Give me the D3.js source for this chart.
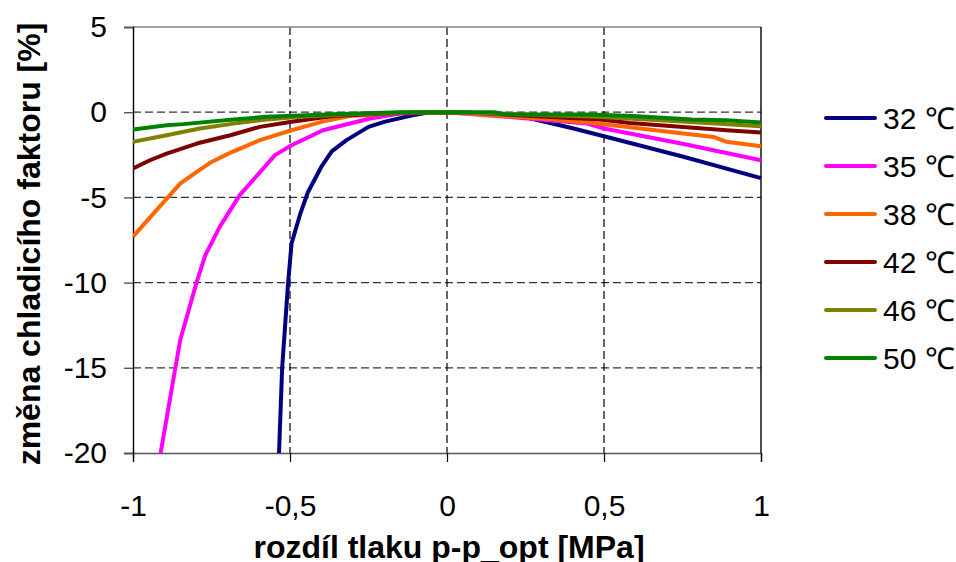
<!DOCTYPE html>
<html><head><meta charset="utf-8">
<script src="https://cdn.jsdelivr.net/npm/d3@7"></script>
<style>body{margin:0;background:#fff}svg{display:block}text{font-family:Arial,"Liberation Sans",sans-serif}</style>
</head><body>
<svg id="c" width="956" height="562"></svg>
<script>
const xTicks = [-1, -0.5, 0, 0.5, 1];
const xTickLabels = ["-1", "-0,5", "0", "0,5", "1"];
const yTicks = [5, 0, -5, -10, -15, -20];
const yTickLabels = ["5", "0", "-5", "-10", "-15", "-20"];
const seriesNames = ["32 \u2103", "35 \u2103", "38 \u2103", "42 \u2103", "46 \u2103", "50 \u2103"];
const seriesColors = ["#000080", "#FF00FF", "#FF6600", "#800000", "#808000", "#008000"];

const x32 = [-0.535, -0.525, -0.506, -0.495, -0.468, -0.443, -0.40, -0.367, -0.32, -0.25, -0.20, -0.11, -0.06, 0, 0.15, 0.25, 0.40, 0.50, 0.75, 1.0];
const y32 = [-20, -15, -10, -7.7, -6.0, -4.7, -3.2, -2.3, -1.64, -0.86, -0.57, -0.18, -0.02, 0, -0.08, -0.3, -0.94, -1.41, -2.6, -3.87];
const x35 = [-0.912, -0.866, -0.85, -0.797, -0.77, -0.723, -0.66, -0.548, -0.495, -0.395, -0.245, -0.15, 0, 0.22, 0.445, 0.5, 0.75, 1.0];
const y35 = [-20, -15.1, -13.4, -9.96, -8.4, -6.7, -4.87, -2.52, -1.94, -1.06, -0.37, -0.08, 0, -0.31, -0.66, -0.96, -1.85, -2.82];
const x38 = [-1, -0.85, -0.797, -0.75, -0.696, -0.596, -0.495, -0.40, -0.31, -0.15, 0, 0.30, 0.466, 0.848, 0.89, 1];
const y38 = [-7.3, -4.19, -3.5, -2.92, -2.43, -1.64, -1.06, -0.57, -0.23, -0.05, 0, -0.37, -0.63, -1.45, -1.74, -2.0];
const x42 = [-1, -0.946, -0.893, -0.797, -0.69, -0.596, -0.5, -0.363, -0.2, 0, 0.1, 0.487, 0.583, 0.89, 1];
const y42 = [-3.3, -2.82, -2.43, -1.84, -1.35, -0.86, -0.57, -0.23, -0.08, 0, -0.05, -0.43, -0.63, -1.06, -1.19];
const x46 = [-1, -0.893, -0.787, -0.68, -0.574, -0.468, -0.31, -0.15, 0, 0.2, 0.477, 0.72, 1];
const y46 = [-1.74, -1.35, -0.96, -0.67, -0.43, -0.27, -0.12, -0.03, 0, -0.1, -0.27, -0.51, -0.82];
const x50 = [-1, -0.893, -0.84, -0.68, -0.574, -0.468, -0.363, -0.15, 0.15, 0.19, 0.455, 0.59, 0.78, 0.89, 1];
const y50 = [-1.02, -0.76, -0.70, -0.43, -0.27, -0.20, -0.12, 0, 0, -0.13, -0.13, -0.23, -0.43, -0.47, -0.6];

const seriesX = [x32, x35, x38, x42, x46, x50];
const seriesY = [y32, y35, y38, y42, y46, y50];

const L = 133, R = 761, T = 27, B = 453;
const FONT = "Arial, 'Liberation Sans', sans-serif";
const svg = d3.select("#c");
const x = d3.scaleLinear().domain([-1, 1]).range([L, R]);
const y = d3.scaleLinear().domain([-20, 5]).range([B, T]);

// gridlines
svg.append("g").selectAll("line").data(yTicks.filter(d => d > -20 && d < 5)).join("line")
  .attr("x1", L).attr("x2", R).attr("y1", d => y(d)).attr("y2", d => y(d))
  .attr("stroke", "#333").attr("stroke-width", 1.2).attr("stroke-dasharray", "8,4");
svg.append("g").selectAll("line").data(xTicks.filter(d => d > -1 && d < 1)).join("line")
  .attr("y1", T).attr("y2", B).attr("x1", d => x(d)).attr("x2", d => x(d))
  .attr("stroke", "#000").attr("stroke-width", 1.2).attr("stroke-dasharray", "8,4");

// borders
svg.append("line").attr("x1", L).attr("x2", R).attr("y1", T).attr("y2", T).attr("stroke", "#808080").attr("stroke-width", 1.5);
svg.append("line").attr("x1", R).attr("x2", R).attr("y1", T).attr("y2", B).attr("stroke", "#000").attr("stroke-width", 1.4);

// axes
const xAxis = d3.axisBottom(x).tickValues(xTicks).tickFormat((d, i) => xTickLabels[i]).tickSize(9).tickPadding(33);
const gx = svg.append("g").attr("transform", `translate(0,${B})`).call(xAxis);
gx.select(".domain").attr("stroke", "#555").attr("stroke-width", 1.5);
gx.selectAll(".tick line").attr("stroke", "#000").attr("stroke-width", 1.2);
gx.selectAll("text").attr("font-size", 30).attr("fill", "#000").style("font-family", FONT);

const yAxis = d3.axisLeft(y).tickValues(yTicks).tickFormat((d, i) => yTickLabels[i]).tickSize(9).tickPadding(17);
const gy = svg.append("g").attr("transform", `translate(${L},0)`).call(yAxis);
gy.select(".domain").attr("stroke", "#000").attr("stroke-width", 1.4);
gy.selectAll(".tick line").attr("stroke", "#555").attr("stroke-width", 1.4);
gy.selectAll("text").attr("font-size", 30).attr("fill", "#000").style("font-family", FONT);

// series
svg.append("defs").append("clipPath").attr("id", "clip").append("rect")
  .attr("x", L).attr("y", T - 3).attr("width", R - L + 3).attr("height", B - T + 3);
const line = d3.line().x(d => x(d[0])).y(d => y(d[1]));
const gl = svg.append("g").attr("clip-path", "url(#clip)");
seriesX.forEach((xs, i) => {
  const pts = xs.map((v, j) => [v, seriesY[i][j]]);
  gl.append("path").datum(pts).attr("d", line).attr("fill", "none")
    .attr("stroke", seriesColors[i]).attr("stroke-width", 4).attr("stroke-linejoin", "round");
});

// legend
const lg = svg.append("g");
seriesNames.forEach((n, i) => {
  const ly = 118 + i * 48;
  lg.append("line").attr("x1", 826).attr("x2", 875).attr("y1", ly).attr("y2", ly)
    .attr("stroke", seriesColors[i]).attr("stroke-width", 4).attr("stroke-linecap", "round");
  lg.append("text").attr("x", 883).attr("y", ly).attr("dy", "0.35em").attr("font-size", 30).text(n);
});

// titles
svg.append("text").attr("x", 449).attr("y", 558).attr("text-anchor", "middle")
  .attr("font-size", 32).attr("font-weight", "bold").text("rozdíl tlaku p-p_opt [MPa]");
svg.append("text").attr("transform", `translate(40,244) rotate(-90)`)
  .attr("text-anchor", "middle").attr("font-size", 32).attr("font-weight", "bold").text("změna chladicího faktoru [%]");
</script>
</body></html>
